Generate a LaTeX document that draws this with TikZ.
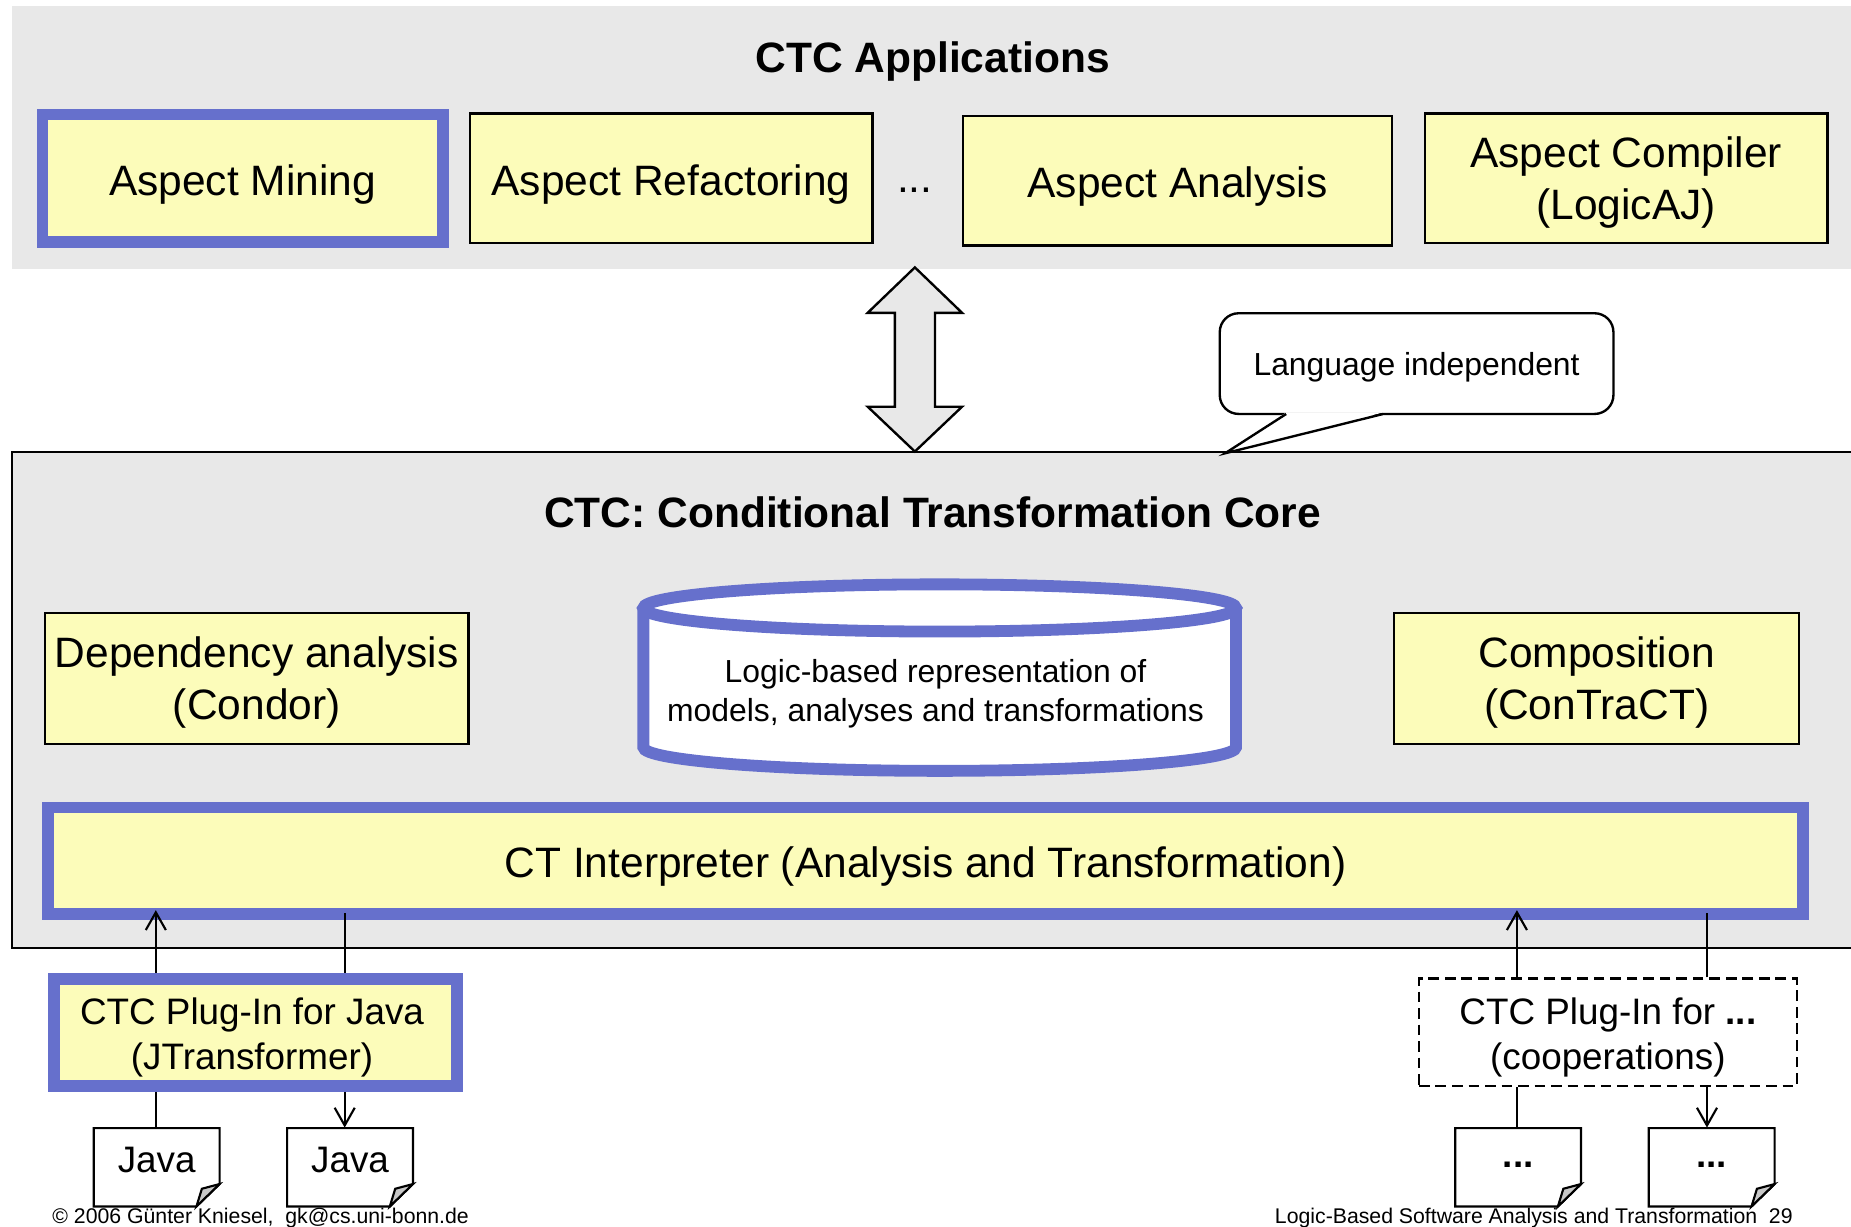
\documentclass[tikz,border=0pt]{standalone}
\usepackage{fontspec}
\setmainfont{Liberation Sans}
\usetikzlibrary{arrows.meta,calc}
\definecolor{panelgray}{RGB}{232,232,232}
\definecolor{noteyellow}{RGB}{252,252,186}
\definecolor{coreblue}{RGB}{102,112,204}
\definecolor{foldgray}{RGB}{200,200,200}

% a sheet of paper with a dog-eared corner, labelled in the middle
\newcommand\docpage[3]{%
  \draw[docline, fill=white] ({#2-53.3},955.6) -- ({#2+53.3},955.6) -- ({#2+53.3},1003)
        -- ({#2+33.7},1022) -- ({#2-53.3},1022) -- cycle;
  \draw[docline, fill=foldgray] ({#2+53.3},1003) -- ({#2+38.3},1007) -- ({#2+33.7},1022) -- cycle;
  \node[docbox] (#1) at (#2,988.8) {#3};
}

\begin{document}
\begin{tikzpicture}[x=0.5pt, y=-0.5pt,
  bigfont/.style={font=\fontsize{18}{22}\selectfont},
  boxbase/.style={draw=black, line width=1pt, fill=noteyellow, align=center,
                 inner sep=0pt, bigfont},
  appbox/.style={boxbase, text height=14.5pt, text depth=0.1pt},
  apptwo/.style={boxbase, text height=38.6pt},
  keybox/.style={appbox, draw=coreblue, line width=5pt},
  headline/.style={font=\bfseries\fontsize{18}{22}\selectfont, text height=13pt, text depth=0pt},
  smallfont/.style={font=\fontsize{13.5}{16.5}\selectfont},
  plugfont/.style={font=\fontsize{15.6}{19}\selectfont},
  plugtext/.style={plugfont, text height=34.4pt},
  docline/.style={draw=black, line width=0.9pt},
  docbox/.style={minimum width=53.3pt, minimum height=33.2pt, inner sep=0pt,
                 text height=10pt, text depth=6pt, plugfont},
  link/.style={draw=black, line width=0.9pt},
  flow/.style={link, -{Straight Barb[length=7.5pt, width=8.5pt]}},
  footer/.style={font=\fontsize{9}{11}\selectfont, inner sep=0pt}]

\useasboundingbox (0,0) rectangle (1568,1039);
\clip (0,0) rectangle (1568,1039);

% ---------- applications layer ----------
\fill[panelgray] (10,5) rectangle (1600,228);
\node[headline] (apptitle) at (790,48) {CTC Applications};

\node[keybox, minimum width=169.5pt, minimum height=54pt] (mining) at (205.5,151) {Aspect Mining};
\node[appbox, minimum width=170.5pt, minimum height=55pt] (refact) at (568.5,151) {Aspect Refactoring};
\node[bigfont, anchor=base, inner sep=0pt] (moreapps) at (775,163) {...};
\node[appbox, minimum width=181.5pt, minimum height=55pt] (analysis) at (997.5,153) {Aspect Analysis};
\node[apptwo, minimum width=170.5pt, minimum height=55pt] (compiler) at (1377.5,151) {Aspect Compiler\\(LogicAJ)};

% ---------- core layer ----------
\draw[line width=1pt, fill=panelgray] (1600,803) -- (10,803) -- (10,383) -- (1600,383);
\node[headline] (coretitle) at (790,434) {CTC: Conditional Transformation Core};

% two-way exchange between the layers
\draw[line width=1pt, fill=panelgray]
  (775,226.5) -- (815,265) -- (792,265) -- (792,344.5) -- (815,344.5) -- (775,382.5)
  -- (735,344.5) -- (758,344.5) -- (758,265) -- (735,265) -- cycle;

% speech bubble
\node[draw=black, line width=1pt, fill=white, rounded corners=8pt,
      minimum width=166.75pt, minimum height=42.65pt, smallfont,
      text height=10.2pt, text depth=0pt] (note) at (1200,308) {Language independent};
\fill[white] (1089.5,349.4) -- (1037.7,384) -- (1171.5,349.4) -- cycle;
\draw[line width=1pt, line join=miter] (1089.5,350.7) -- (1037.7,384) -- (1171.5,350.7);

\node[apptwo, minimum width=179.5pt, minimum height=55.5pt] (condor) at (217.5,574.5) {Dependency analysis\\(Condor)};
\node[apptwo, minimum width=171.5pt, minimum height=55.5pt] (contract) at (1352.5,574.5) {Composition\\(ConTraCT)};

% fact base drum
\path[fill=white] (545,515) -- (545,633) arc[start angle=180, end angle=0, x radius=251, y radius=20] -- (1047,515) -- cycle;
\draw[coreblue, line width=5pt] (545,515) -- (545,633) arc[start angle=180, end angle=0, x radius=251, y radius=20] -- (1047,515);
\draw[coreblue, line width=5pt, fill=white] (796,515) ellipse[x radius=251, y radius=20];
\node[smallfont, align=center, text height=27.8pt] (repo) at (792.5,586)
  {Logic-based representation of\\models, analyses and transformations};

\node[keybox, minimum width=743pt, minimum height=45pt] (interp) at (784,729) {CT Interpreter (Analysis and Transformation)};

% ---------- plug-ins ----------
\node[boxbase, draw=coreblue, line width=5pt, plugtext, minimum width=170.5pt, minimum height=45.5pt] (pjava) at (216.5,874.5)
  {CTC Plug-In for Java\hspace*{3pt}\\(JTransformer)\hspace*{3pt}};
\node[draw=black, line width=1pt, dash pattern=on 4.5pt off 2.5pt, align=center, plugtext,
      minimum width=160pt, minimum height=45.5pt, inner sep=0pt] (pother) at (1362,874.5)
  {CTC Plug-In for \textbf{...}\\(cooperations)};

\docpage{jin}{132.7}{Java}
\docpage{jout}{296.5}{Java}
\docpage{oin}{1286}{\raisebox{2pt}{\textbf{...}}}
\docpage{oout}{1450}{\raisebox{2pt}{\textbf{...}}}

\coordinate (j1) at (132,0);
\coordinate (j2) at (292,0);
\coordinate (c1) at (1285,0);
\coordinate (c2) at (1446,0);

\draw[flow] (j1 |- pjava.north) -- ($(j1 |- interp.south)+(0,-8)$);
\draw[link] (j2 |- pjava.north) -- ($(j2 |- interp.south)+(0,-6)$);
\draw[flow] (c1 |- pother.north) -- ($(c1 |- interp.south)+(0,-8)$);
\draw[link] (c2 |- pother.north) -- ($(c2 |- interp.south)+(0,-6)$);

\draw[link] (j1 |- pjava.south) -- (j1 |- jin.north);
\draw[flow] (j2 |- pjava.south) -- (j2 |- jout.north);
\draw[link] (c1 |- pother.south) -- (c1 |- oin.north);
\draw[flow] (c2 |- pother.south) -- (c2 |- oout.north);

% ---------- slide footer ----------
\node[footer, anchor=base west] (credit) at (44,1036) {© 2006 Günter Kniesel,\ \ gk@cs.uni-bonn.de};
\node[footer, anchor=base east] (course) at (1519,1036) {Logic-Based Software Analysis and Transformation\ \ 29};
\end{tikzpicture}
\end{document}
